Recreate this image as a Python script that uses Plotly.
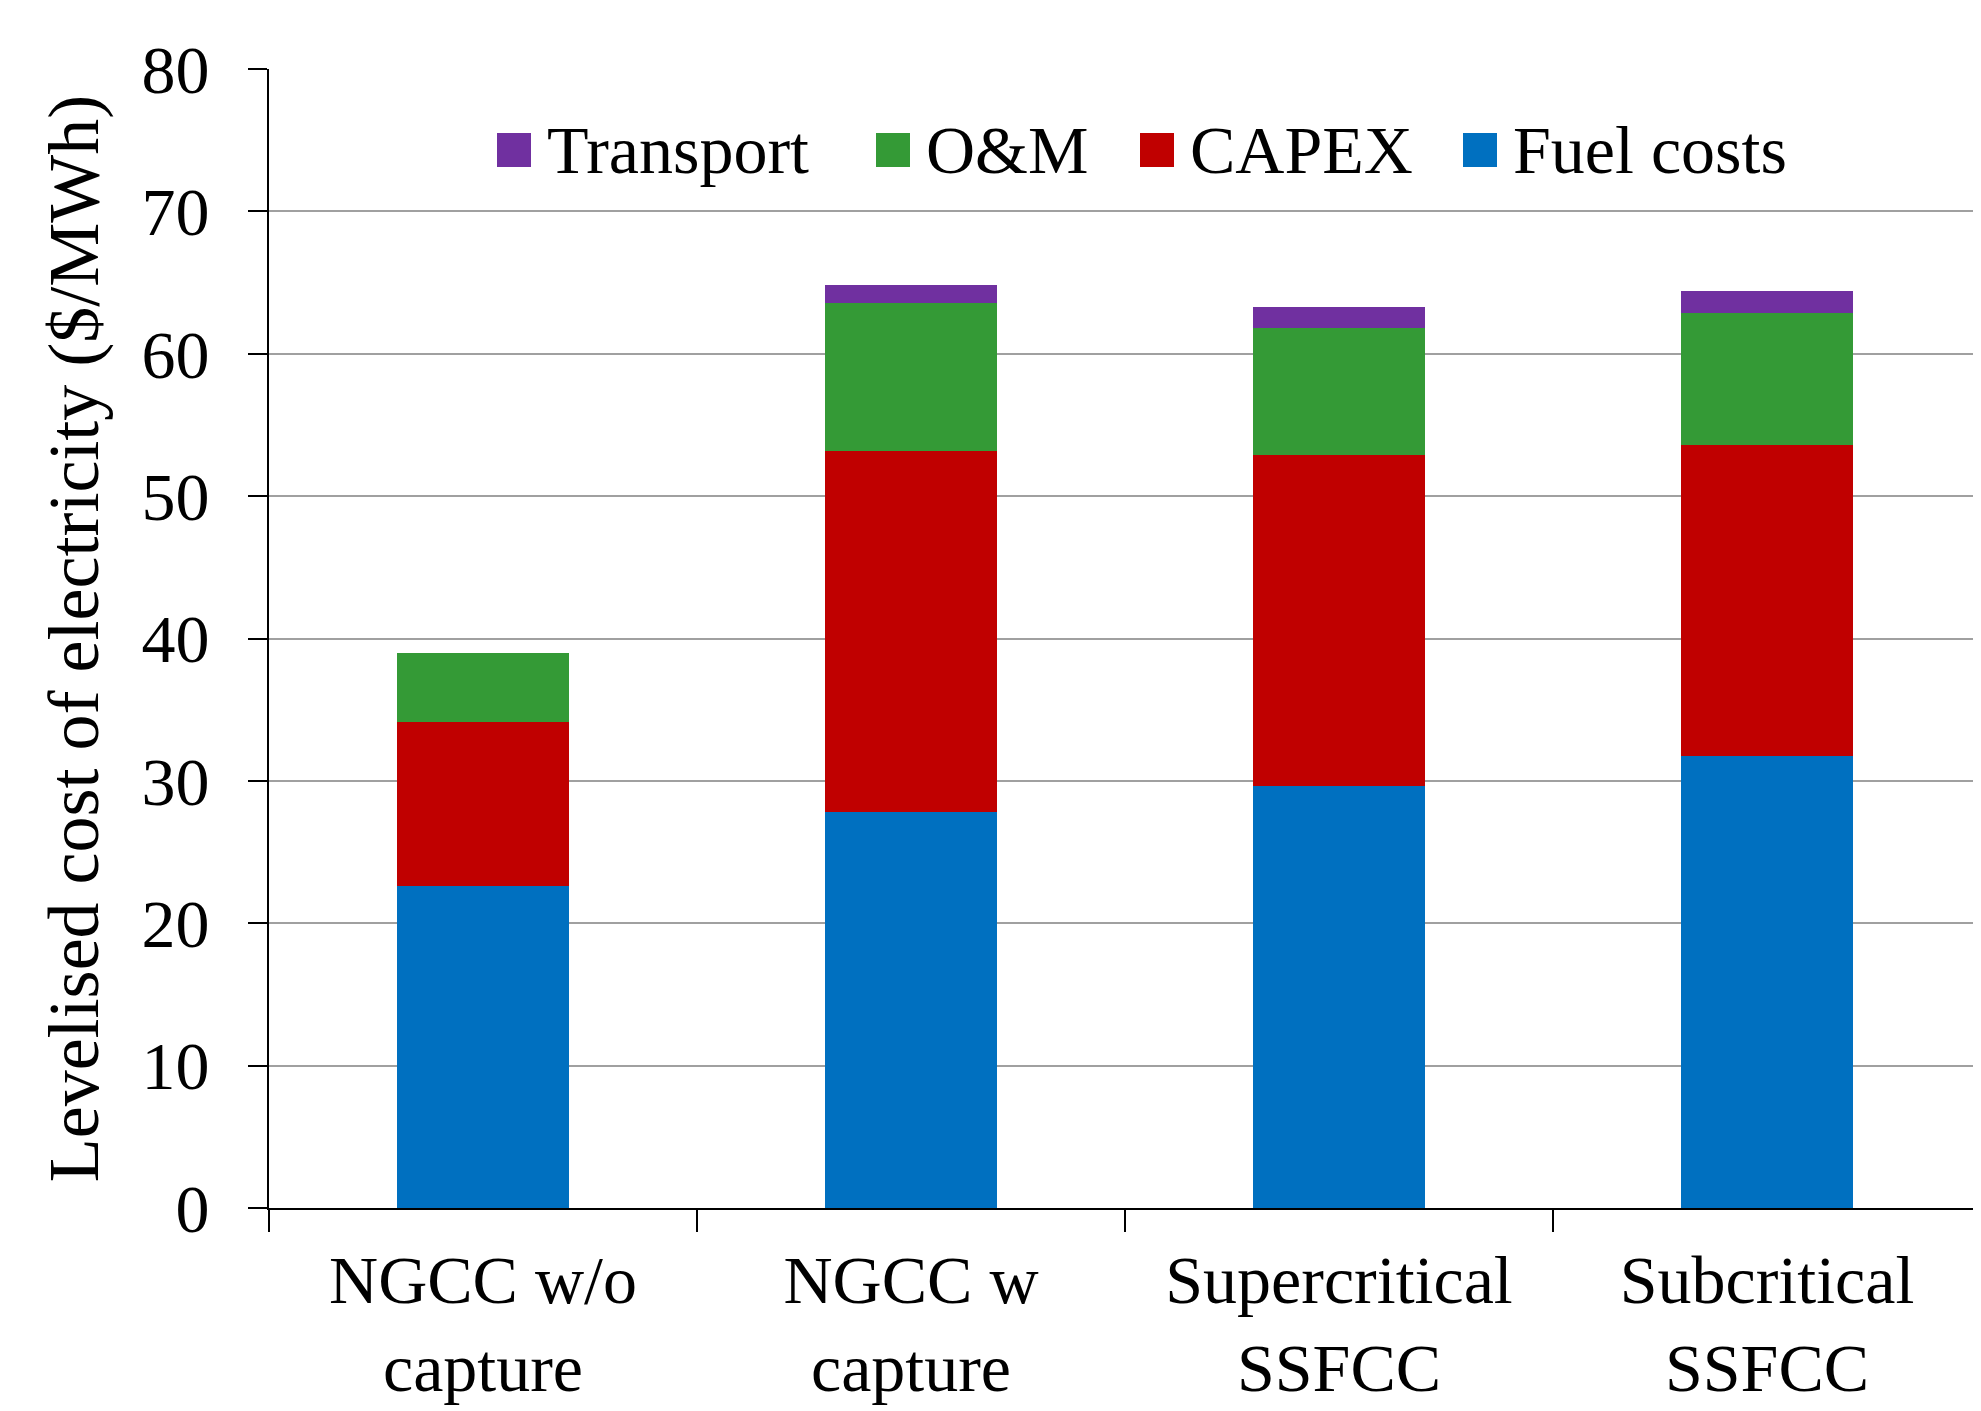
import plotly.graph_objects as go

categories = ["NGCC w/o<br>capture", "NGCC w<br>capture", "Supercritical<br>SSFCC", "Subcritical<br>SSFCC"]
fuel_costs = [22.63, 27.81, 29.66, 31.72]
capex = [11.54, 25.39, 23.21, 21.85]
om = [4.83, 10.35, 8.93, 9.28]
transport = [0.0, 1.29, 1.50, 1.57]
y_ticks = [0, 10, 20, 30, 40, 50, 60, 70, 80]

series_names = ["Fuel costs", "CAPEX", "O&M", "Transport"]
series_values = [fuel_costs, capex, om, transport]
series_colors = ["#0070C0", "#C00000", "#349A36", "#7030A0"]

FONT = "Liberation Serif, Times New Roman, serif"
FS = 68

fig = go.Figure()
for name, vals, col in zip(series_names, series_values, series_colors):
    fig.add_trace(go.Bar(
        x=categories, y=vals, name=name,
        marker=dict(color=col, line=dict(width=0)),
        width=0.4, showlegend=False,
    ))

# manual legend (large square swatches, as in the original)
legend_order = ["Transport", "O&M", "CAPEX", "Fuel costs"]
legend_sq_x = [497, 876, 1140, 1463]  # page-pixel left edges of swatches
plot_l, plot_t, plot_w, plot_h = 269, 69, 1712, 1139
sq = 34
cy = 150
for name, px in zip(legend_order, legend_sq_x):
    col = series_colors[series_names.index(name)]
    x0 = (px - plot_l) / plot_w
    x1 = (px + sq - plot_l) / plot_w
    y0 = (plot_t + plot_h - (cy + sq / 2)) / plot_h
    y1 = (plot_t + plot_h - (cy - sq / 2)) / plot_h
    fig.add_shape(type="rect", xref="paper", yref="paper", x0=x0, x1=x1, y0=y0, y1=y1,
                  fillcolor=col, line=dict(width=0), layer="above")
    fig.add_annotation(xref="paper", yref="paper", x=(px + sq + 14 - plot_l) / plot_w,
                       y=(plot_t + plot_h - cy) / plot_h, xanchor="left", yanchor="middle",
                       text=name, showarrow=False, font=dict(family=FONT, size=FS, color="black"))

fig.update_layout(
    barmode="stack",
    width=1981, height=1411,
    margin=dict(l=261, r=8, t=61, b=211),
    paper_bgcolor="white", plot_bgcolor="white",
    font=dict(family=FONT, size=FS, color="black"),
    bargap=0.6,
)
fig.update_xaxes(
    range=[-0.5, 3.5], tickson="boundaries", ticks="outside", ticklen=22, tickwidth=2,
    tickcolor="black", showline=True, linecolor="black", linewidth=2, automargin=False,
    showgrid=False, tickfont=dict(family=FONT, size=68), ticklabelstandoff=11,
)
fig.update_yaxes(
    range=[0, 80], tickvals=y_ticks, ticks="outside", ticklen=19, tickwidth=2,
    tickcolor="black", showline=True, linecolor="black", linewidth=2, automargin=False,
    showgrid=True, gridcolor="#a0a0a0", gridwidth=2, zeroline=False,
    tickfont=dict(family=FONT, size=FS), ticklabelstandoff=25,
    title=dict(text="Levelised cost of electricity ($/MWh)", font=dict(family=FONT, size=72), standoff=19),
)

fig.write_html("out.html")
